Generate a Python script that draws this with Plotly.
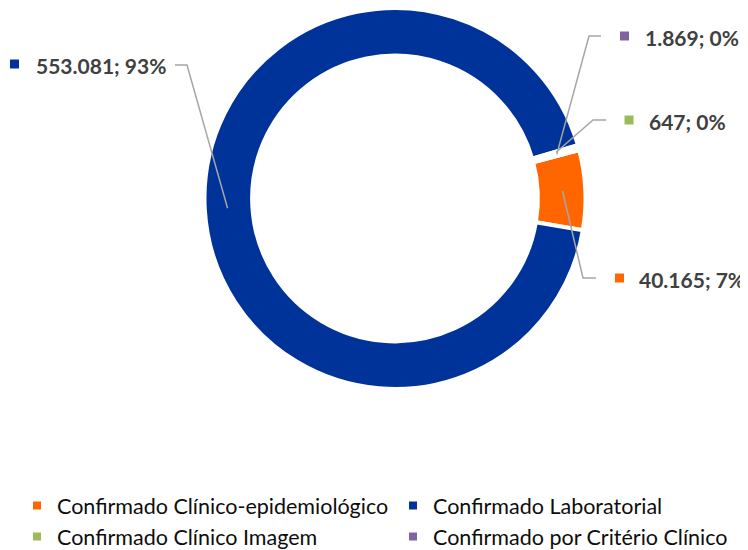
import math
import plotly.graph_objects as go

# ---- data ----
categories = ["Confirmado Clínico-epidemiológico", "Confirmado Laboratorial",
              "Confirmado Clínico Imagem", "Confirmado por Critério Clínico"]
values = [40165, 553081, 647, 1869]
colors = ["#FF6600", "#003399", "#9BBB59", "#8064A2"]

# ---- layout constants (pixels, in window coordinates) ----
OFF = 8                      # default page body margin
W, H = 748, 550              # figure size
CX, CY, R_OUT = 395, 198.5, 190.5
HOLE = 0.75
ROTATION = 75.3
FONT = "Lato"

def px(x):
    return (x - OFF) / W

def py(y):
    return 1 - (y - OFF) / H

total = sum(values)
pct = [round(v / total * 100) for v in values]
texts = [f"{v:,}".replace(",", ".") + f"; {p}%" for v, p in zip(values, pct)]

fig = go.Figure(go.Pie(
    labels=categories, values=values, sort=False, direction="clockwise",
    rotation=ROTATION, hole=HOLE, textinfo="none",
    marker=dict(colors=colors, line=dict(color="white", width=4)),
    domain=dict(x=[px(CX - R_OUT), px(CX + R_OUT)], y=[py(CY + R_OUT), py(CY - R_OUT)]),
    hoverinfo="label+value+percent",
))

# label placement (pixel positions of marker square, text start, elbow of leader line)
label_pos = {
    0: dict(mx=619.5, tx=637, ty=279, e1=(596, 278), e2=(583, 278)),
    1: dict(mx=14.5, tx=34, ty=65, e1=(175, 65), e2=(187, 65)),
    2: dict(mx=629, tx=647, ty=121, e1=(606, 120), e2=(593, 120)),
    3: dict(mx=624.5, tx=643, ty=37, e1=(601, 36), e2=(589, 36)),
}

r_mid = R_OUT * (1 + HOLE) / 2 + 1
cum = 0
shapes, annots = [], []
for i, v in enumerate(values):
    mid = ROTATION + (cum + v / 2) / total * 360
    cum += v
    a = math.radians(mid)
    ex, ey = CX + r_mid * math.sin(a), CY - r_mid * math.cos(a)
    lp = label_pos[i]
    path = f"M {px(lp['e1'][0])},{py(lp['e1'][1])} L {px(lp['e2'][0])},{py(lp['e2'][1])} L {px(ex)},{py(ey)}"
    shapes.append(dict(type="path", xref="paper", yref="paper", path=path,
                       line=dict(color="#A6A6A6", width=1.5)))
    s = 4.5
    shapes.append(dict(type="rect", xref="paper", yref="paper",
                       x0=px(lp['mx'] - s), x1=px(lp['mx'] + s),
                       y0=py(lp['ty'] + s - 1), y1=py(lp['ty'] - s - 1),
                       fillcolor=colors[i], line=dict(width=0)))
    annots.append(dict(xref="paper", yref="paper", x=px(lp['tx']), y=py(lp['ty']),
                       xanchor="left", yanchor="middle", showarrow=False,
                       text=f"<b>{texts[i]}</b>",
                       font=dict(family=FONT, size=21, color="#404040")))

fig.update_layout(
    width=W, height=H,
    margin=dict(l=0, r=0, t=0, b=0, autoexpand=False),
    paper_bgcolor="white", plot_bgcolor="white",
    shapes=shapes, annotations=annots,
    showlegend=True,
    legend=dict(orientation="h", x=px(17), xanchor="left", y=py(485), yanchor="top",
                entrywidth=331, entrywidthmode="pixels", traceorder="normal",
                font=dict(family=FONT, size=21.5, color="#0d0d0d"),
                bgcolor="rgba(0,0,0,0)"),
    font=dict(family=FONT),
)

fig.write_html("out.html")
